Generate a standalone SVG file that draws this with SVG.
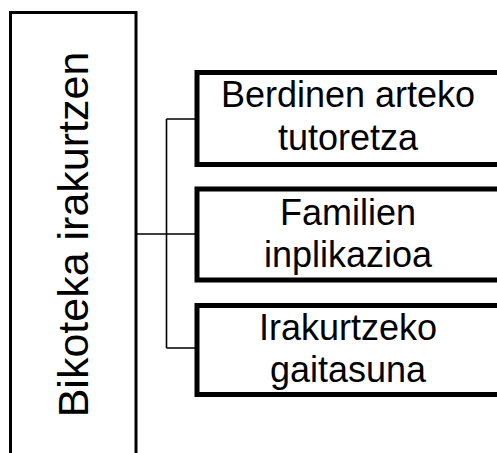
<svg xmlns="http://www.w3.org/2000/svg" width="497" height="453" viewBox="0 0 497 453">
<style>
.box{fill:#fff;stroke:#000;stroke-width:5}
.main{fill:#fff;stroke:#000;stroke-width:3}
.t{font-family:"Liberation Sans",Arial,sans-serif;font-size:36px;fill:#000;text-anchor:middle}
.conn{fill:none;stroke:#000;stroke-width:1.6}
</style>
<rect width="497" height="453" fill="#fff"/>
<g id="root">
<rect class="main" x="10.5" y="12.5" width="125.5" height="460"/>
<text class="t" style="font-size:43px" transform="translate(88,234.5) rotate(-90)" x="0" y="0">Bikoteka irakurtzen</text>
</g>
<g id="connectors">
<path class="conn" d="M136 234H197M166.5 119V348M166.5 119H197M166.5 348H197"/>
</g>
<g id="n1">
<rect class="box" x="197" y="72.5" width="305" height="92"/>
<text class="t" x="348" y="107">Berdinen arteko</text>
<text class="t" x="348" y="150">tutoretza</text>
</g>
<g id="n2">
<rect class="box" x="197" y="189" width="305" height="91"/>
<text class="t" x="348" y="225">Familien</text>
<text class="t" x="348" y="267">inplikazioa</text>
</g>
<g id="n3">
<rect class="box" x="197" y="305.5" width="305" height="89"/>
<text class="t" x="348" y="340">Irakurtzeko</text>
<text class="t" x="348" y="382">gaitasuna</text>
</g>
</svg>
